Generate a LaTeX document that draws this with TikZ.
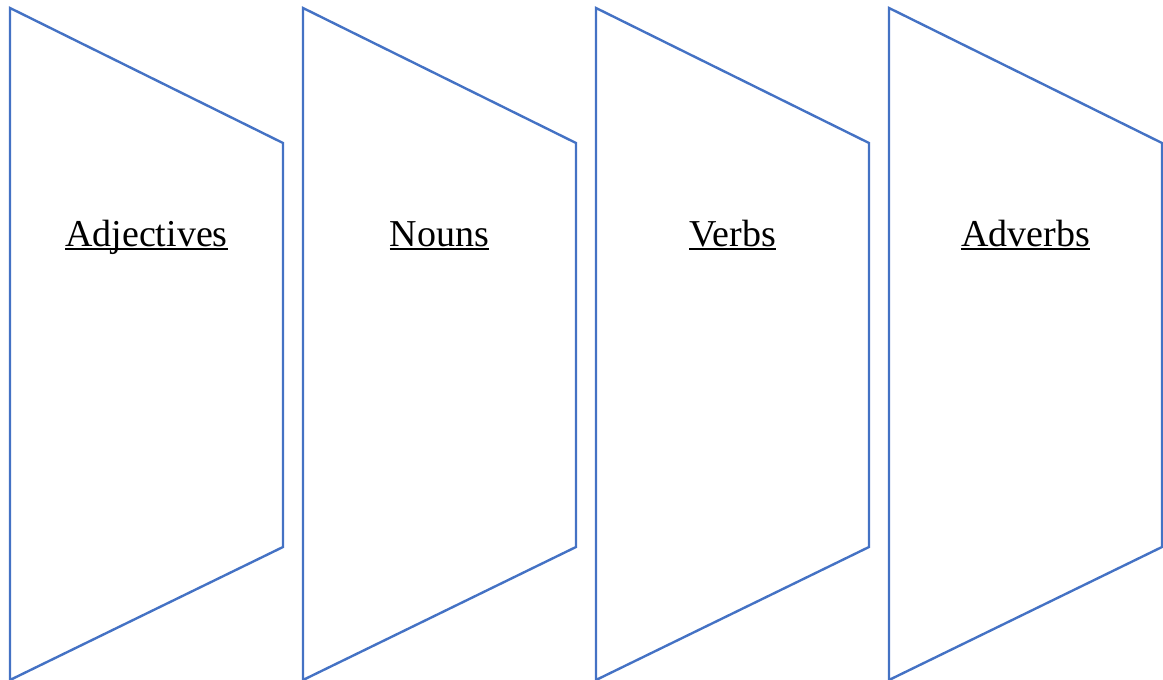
\documentclass[tikz,border=0pt]{standalone}
\usepackage{fontspec}
\setmainfont{Liberation Serif}
\usetikzlibrary{positioning}
\definecolor{officeblue}{HTML}{4472C4}

\tikzset{
  panel/.style={draw=officeblue, line width=2.4pt, line join=miter},
  wordlabel/.style={inner sep=0pt, font=\fontsize{38}{45}\selectfont},
  wordline/.style={draw=black, line width=1.8pt}
}

\begin{document}
\begin{tikzpicture}[x=1pt, y=-1pt]
  \useasboundingbox (0,0) rectangle (1163,680);
  % four word panels
  \foreach \word/\x [count=\i] in {Adjectives/10, Nouns/303, Verbs/596, Adverbs/889}{
    \draw[panel] (\x,8) -- ++(273,135) -- ++(0,404) -- ++(-273,133) -- cycle;
    \node[wordlabel, anchor=base] (word\i) at (\x+136.5,246) {\word};
    \draw[wordline] ([yshift=-3pt]word\i.base west) -- ([yshift=-3pt]word\i.base east);
  }
\end{tikzpicture}
\end{document}
